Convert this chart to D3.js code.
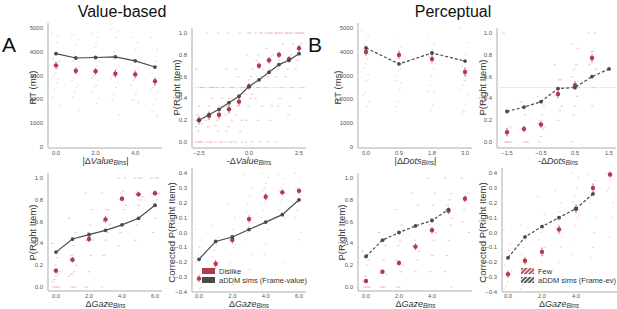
<!DOCTYPE html>
<html>
<head>
<meta charset="utf-8">
<script src="https://cdn.jsdelivr.net/npm/d3@7"></script>
<style>
	body { margin: 0; background: #fff; }
	text { font-family: "Liberation Sans", Arial, sans-serif; }
</style>
</head>
<body>
<svg id="fig" width="617" height="309"></svg>
<script>
// ---- data ----
// A: value-based
var rtValueBins = [0, 1, 2, 3, 4, 5];
var rtValueData = [3430, 3200, 3180, 3080, 3050, 2760];
var rtValueErr = [160, 150, 150, 170, 170, 170];
var rtValueSim = [3920, 3740, 3760, 3790, 3620, 3360];
var rtValueSubj = [
	[4750, 4650, 4400, 3900, 3700, 3600, 3300, 3100, 3000, 2900, 2850, 2700, 2400, 2100, 1750],
	[4700, 4500, 4300, 3900, 3600, 3400, 3300, 3100, 2900, 2800, 2600, 2500, 2300, 2100, 1550],
	[4750, 4600, 4400, 4200, 3800, 3600, 3400, 3200, 3000, 2900, 2800, 2600, 2500, 2300, 2050, 1850],
	[4950, 4850, 4600, 4000, 3700, 3400, 3300, 3200, 3000, 2900, 2700, 2500, 2200, 2000, 1350],
	[4600, 4400, 4100, 3700, 3500, 3300, 3100, 3000, 2800, 2600, 2400, 2200, 2000, 1950, 1850],
	[4600, 4100, 3600, 3300, 3100, 2900, 2800, 2600, 2500, 2400, 2300, 2000, 1800, 1500, 1350, 1300]
];

var pValueBins = [-2.5, -2, -1.5, -1, -0.5, 0, 0.5, 1, 1.5, 2, 2.5];
var pValueData = [0.2, 0.24, 0.25, 0.3, 0.37, 0.51, 0.7, 0.75, 0.8, 0.76, 0.86];
var pValueErr = [0.04, 0.04, 0.04, 0.04, 0.04, 0.03, 0.03, 0.03, 0.03, 0.03, 0.03];
var pValueSim = [0.2, 0.25, 0.3, 0.36, 0.42, 0.51, 0.57, 0.64, 0.71, 0.75, 0.81];
var pValueSubj = [
	[0, 0, 0, 0, 0.67, 0.5, 0.5, 0.33, 0.25, 0.2, 0.17, 0, 0.1, 0.14],
	[0, 0, 0, 0, 1, 0.5, 0.5, 0.33, 0.25, 0.2, 0.4, 0.5, 0.14],
	[0, 0, 0, 1, 0.5, 0.5, 0.33, 0.25, 0.2, 0.15, 0.4, 0.29, 0.1],
	[0, 0, 0, 1, 0.67, 0.5, 0.5, 0.4, 0.33, 0.25, 0.2, 0.3, 0.14, 0.1],
	[0, 0, 1, 0.6, 0.67, 0.5, 0.5, 0.4, 0.33, 0.25, 0.2, 0.1],
	[0, 0, 1, 1, 0.8, 0.67, 0.6, 0.57, 0.5, 0.5, 0.44, 0.4, 0.33, 0.2],
	[1, 1, 1, 0.8, 0.75, 0.67, 0.6, 0.5, 0.5, 0.4, 0.33, 0, 0.2],
	[1, 1, 1, 1, 0.86, 0.8, 0.75, 0.67, 0.6, 0.5, 0.33, 0.2, 0],
	[1, 1, 1, 1, 1, 0.9, 0.8, 0.75, 0.67, 0.6, 0.5, 0.4, 0.33, 0],
	[1, 1, 1, 1, 1, 0.9, 0.8, 0.75, 0.67, 0.6, 0.5, 0.33, 0.25],
	[1, 1, 1, 1, 1, 1, 0.9, 0.8, 0.75, 0.67, 0.5, 0.4]
];

var gazeBins = [0, 1, 2, 3, 4, 5, 6];
var pGazeValueData = [0.15, 0.25, 0.44, 0.62, 0.81, 0.85, 0.86];
var pGazeValueErr = [0.025, 0.025, 0.03, 0.03, 0.025, 0.02, 0.02];
var pGazeValueSim = [0.32, 0.44, 0.48, 0.52, 0.57, 0.63, 0.75];
var pGazeValueSubj = [
	[0.4, 0.33, 0.27, 0.2, 0.15, 0.14, 0.12, 0.1, 0.07, 0.05, 0, 0, 0, 0],
	[0.63, 0.5, 0.38, 0.29, 0.25, 0.2, 0.14, 0.12, 0.12, 0.1, 0, 0, 0],
	[0.86, 0.71, 0.57, 0.5, 0.43, 0.43, 0.29, 0.14, 0, 0],
	[0.86, 0.71, 0.71, 0.63, 0.6, 0.57, 0.5, 0.43, 0.29, 0],
	[1, 1, 0.88, 0.86, 0.8, 0.75, 0.71, 0.57, 0.5, 0.38],
	[1, 1, 1, 0.88, 0.86, 0.83, 0.8, 0.75, 0.57, 0.43],
	[1, 1, 1, 0.88, 0.86, 0.86, 0.8, 0.63, 0.5]
];

var cGazeValueData = [-0.31, -0.21, -0.05, 0.09, 0.24, 0.27, 0.28];
var cGazeValueErr = [0.025, 0.025, 0.025, 0.025, 0.025, 0.02, 0.02];
var cGazeValueSim = [-0.18, -0.06, -0.03, 0.02, 0.07, 0.12, 0.22];
var cGazeValueSubj = [
	[0.02, -0.05, -0.1, -0.15, -0.2, -0.25, -0.28, -0.3, -0.32, -0.35, -0.37, -0.38, -0.4],
	[0.05, -0.03, -0.08, -0.12, -0.16, -0.2, -0.22, -0.24, -0.27, -0.3, -0.35, -0.4],
	[0.19, 0.1, 0.02, -0.02, -0.05, -0.08, -0.1, -0.15, -0.2, -0.25, -0.3, -0.35],
	[0.39, 0.3, 0.25, 0.19, 0.14, 0.1, 0.08, 0.04, 0, -0.05, -0.15, -0.25],
	[0.4, 0.37, 0.33, 0.3, 0.28, 0.25, 0.22, 0.2, 0.15, 0.1, 0.02, -0.08, -0.15, -0.3],
	[0.39, 0.36, 0.32, 0.3, 0.28, 0.26, 0.24, 0.22, 0.2, 0.15, 0.1, -0.2],
	[0.4, 0.36, 0.34, 0.3, 0.29, 0.28, 0.25, 0.2, 0.15, 0.1, 0, -0.05]
];

// B: perceptual
var rtDotsBins = [0, 1, 2, 3];
var rtDotsLabels = ["0.0", "0.9", "1.8", "3.0"];
var rtDotsData = [3990, 3870, 3700, 3150];
var rtDotsErr = [170, 180, 180, 200];
var rtDotsSim = [4160, 3490, 3950, 3610];
var rtDotsSubj = [
	[4900, 4700, 4500, 4300, 4100, 3900, 3700, 3500, 3300, 3150, 3050, 2800, 2300, 2200, 1900, 1700],
	[4500, 4200, 4000, 3800, 3700, 3500, 3300, 3200, 3000, 2800, 2700, 2400, 1900, 1700],
	[4500, 4300, 4100, 3900, 3800, 3500, 3300, 3000, 2600, 2350, 2300, 1800, 1550],
	[5000, 4400, 3900, 3600, 3400, 3200, 3000, 2800, 2600, 2400, 2200, 1800, 1500, 1400]
];

var pDotsBins = [-1.5, -1, -0.5, 0, 0.5, 1, 1.5];
var pDotsData = [0.09, 0.12, 0.16, 0.44, 0.52, 0.77, null];
var pDotsErr = [0.04, 0.03, 0.03, 0.04, 0.04, 0.04, 0];
var pDotsSim = [0.28, 0.32, 0.37, 0.49, 0.5, 0.6, 0.67];
var pDotsSubj = [
	[1, 0.14, 0.1, 0, 0, 0, 0, 0],
	[0.37, 0.33, 0.25, 0.12, 0.12, 0, 0, 0],
	[0.42, 0.33, 0.25, 0.2, 0.17, 0.14, 0.12, 0.05, 0],
	[0.71, 0.57, 0.57, 0.5, 0.43, 0.33, 0.29, 0.2],
	[0.9, 0.86, 0.71, 0.67, 0.6, 0.5, 0.42, 0.33, 0.25, 0],
	[1, 1, 0.83, 0.83, 0.71, 0.67, 0.5, 0.33],
	[]
];

var pGazeDotsData = [0.055, 0.14, 0.22, 0.37, 0.52, 0.7, 0.81];
var pGazeDotsErr = [0.02, 0.02, 0.025, 0.03, 0.03, 0.03, 0.03];
var pGazeDotsSim = [0.28, 0.43, 0.5, 0.56, 0.61, 0.71, null];
var pGazeDotsSubj = [
	[0.33, 0.25, 0.2, 0.1, 0.05, 0, 0, 0, 0],
	[0.5, 0.38, 0.25, 0.14, 0.13, 0.12, 0, 0, 0],
	[0.71, 0.57, 0.43, 0.38, 0.25, 0.2, 0.14, 0, 0],
	[0.86, 0.75, 0.57, 0.43, 0.38, 0.33, 0.25, 0.14],
	[1, 0.86, 0.75, 0.63, 0.57, 0.5, 0.43, 0.29, 0.14],
	[1, 0.86, 0.8, 0.75, 0.71, 0.63, 0.57, 0.43, 0.29, 0.14, 0],
	[1, 0.86, 0.83, 0.71, 0.6, 0.5]
];

var cGazeDotsData = [-0.28, -0.19, -0.13, 0.02, 0.16, 0.3, 0.39];
var cGazeDotsErr = [0.025, 0.025, 0.03, 0.03, 0.03, 0.03, 0.02];
var cGazeDotsSim = [-0.17, -0.03, 0.04, 0.1, 0.16, 0.26, null];
var cGazeDotsSubj = [
	[0.02, -0.08, -0.12, -0.18, -0.22, -0.26, -0.3, -0.33, -0.36, -0.38],
	[0.05, 0.03, -0.05, -0.1, -0.15, -0.2, -0.25, -0.3, -0.35, -0.38],
	[0.24, 0.12, 0.05, 0, -0.05, -0.1, -0.15, -0.2, -0.25],
	[0.28, 0.2, 0.14, 0.08, 0.03, -0.03, -0.1, -0.2, -0.3],
	[0.4, 0.37, 0.3, 0.25, 0.2, 0.15, 0.1, 0.05, -0.05, -0.15],
	[0.39, 0.35, 0.3, 0.25, 0.2, 0.1, 0, -0.1, -0.17],
	[0.4, 0.38, 0.35, 0.3, 0.28, 0.2, 0.1, -0.03]
];

var legendA = ["Dislike", "aDDM sims (Frame-value)"];
var legendB = ["Few", "aDDM sims (Frame-ev)"];

// ---- drawing ----
var svg = d3.select("#fig");
var red = "#b23b4b", subjRed = "#e3a1aa", simGray = "#4a4a4a", spine = "#c8c8c8";

var defs = svg.append("defs");
function hatch(id, color) {
	var p = defs.append("pattern").attr("id", id)
		.attr("patternUnits", "userSpaceOnUse").attr("width", 3).attr("height", 3)
		.attr("patternTransform", "rotate(45)");
	p.append("rect").attr("width", 3).attr("height", 3).attr("fill", "#fff");
	p.append("rect").attr("width", 1.8).attr("height", 3).attr("fill", color);
}
hatch("hatchRed", red);
hatch("hatchGray", simGray);

function drawPanel(cfg) {
	var g = svg.append("g");
	var x = d3.scaleLinear().domain(cfg.xDomain).range(cfg.xRange);
	var y = d3.scaleLinear().domain(cfg.yDomain).range(cfg.yRange);

	// spines
	g.append("line").attr("x1", cfg.axisX).attr("x2", cfg.axisX)
		.attr("y1", cfg.yRange[1] - 5).attr("y2", cfg.axisY)
		.attr("stroke", spine).attr("stroke-width", 1.5);
	g.append("line").attr("x1", cfg.axisX).attr("x2", cfg.xRange[1] + 7)
		.attr("y1", cfg.axisY).attr("y2", cfg.axisY)
		.attr("stroke", spine).attr("stroke-width", 1.5);

	if (cfg.refLine != null) {
		g.append("line").attr("x1", cfg.axisX).attr("x2", cfg.xRange[1] + 7)
			.attr("y1", y(cfg.refLine)).attr("y2", y(cfg.refLine))
			.attr("stroke", "#e6e6e6").attr("stroke-width", 0.8);
	}

	// tick labels
	g.selectAll(".yt").data(cfg.yTicks).enter().append("text")
		.attr("x", cfg.axisX - 5).attr("y", function(d) { return y(d) + 2; })
		.attr("text-anchor", "end").attr("font-size", 6).attr("fill", "#555")
		.text(function(d) { return cfg.yFmt(d); });
	g.selectAll(".xt").data(cfg.xTicks).enter().append("text")
		.attr("x", function(d) { return x(d); }).attr("y", cfg.tickY)
		.attr("text-anchor", "middle").attr("font-size", 5.8).attr("fill", "#555")
		.text(function(d, i) { return cfg.xLabels ? cfg.xLabels[i] : d3.format(".1f")(d); });

	// axis labels
	g.append("text")
		.attr("transform", "translate(" + cfg.yLabelX + "," + ((cfg.yRange[0] + cfg.yRange[1]) / 2) + ") rotate(-90)")
		.attr("text-anchor", "middle").attr("font-size", 9.5).attr("fill", "#333")
		.text(cfg.yLabel);
	var xl = g.append("text").attr("x", (cfg.xRange[0] + cfg.xRange[1]) / 2).attr("y", cfg.xLabelY)
		.attr("text-anchor", "middle").attr("font-size", 9).attr("fill", "#333");
	xl.append("tspan").text(cfg.xLabel[0]);
	xl.append("tspan").attr("font-style", "italic").text(cfg.xLabel[1]);
	xl.append("tspan").attr("font-style", "italic").attr("font-size", 6.5).attr("dy", 1.2).text("Bins");
	xl.append("tspan").attr("dy", -1.2).text(cfg.xLabel[2]);

	// subject points
	cfg.bins.forEach(function(b, i) {
		g.selectAll(null).data(cfg.subj[i]).enter().append("rect")
			.attr("x", function(d, j) { return x(b) + ((j * 7) % 9 - 4) * 0.9 - 1; })
			.attr("y", function(d) { return y(d) - 0.5; })
			.attr("width", cfg.dash ? 2.4 : 1.3).attr("height", 1.1)
			.attr("fill", subjRed).attr("opacity", 0.6);
	});

	// data means with error bars
	cfg.bins.forEach(function(b, i) {
		var v = cfg.data[i];
		if (v == null) return;
		var e = cfg.err[i];
		g.append("line").attr("x1", x(b)).attr("x2", x(b))
			.attr("y1", y(v - e)).attr("y2", y(v + e))
			.attr("stroke", red).attr("stroke-width", 0.9).attr("opacity", 0.8);
		g.append("circle").attr("cx", x(b)).attr("cy", y(v)).attr("r", 2.2).attr("fill", red);
	});

	// simulations
	var simPts = cfg.bins.map(function(b, i) { return [b, cfg.sim[i]]; })
		.filter(function(d) { return d[1] != null; });
	var line = d3.line().x(function(d) { return x(d[0]); }).y(function(d) { return y(d[1]); });
	g.append("path").attr("d", line(simPts)).attr("fill", "none")
		.attr("stroke", simGray).attr("stroke-width", 1.2)
		.attr("stroke-dasharray", cfg.dashed ? "3,2" : null);
	g.selectAll(null).data(simPts).enter().append("circle")
		.attr("cx", function(d) { return x(d[0]); }).attr("cy", function(d) { return y(d[1]); })
		.attr("r", 1.9).attr("fill", simGray);

	if (cfg.legend) {
		cfg.legend.forEach(function(t, i) {
			var ly = cfg.legendY + i * 9;
			g.append("rect").attr("x", cfg.legendX).attr("y", ly - 3).attr("width", 13).attr("height", 6)
				.attr("fill", cfg.hatched ? (i == 0 ? "url(#hatchRed)" : "url(#hatchGray)") : (i == 0 ? red : simGray));
			g.append("text").attr("x", cfg.legendX + 17).attr("y", ly + 3)
				.attr("font-size", 7.5).attr("fill", "#333").text(t);
		});
	}
}

var fmt1 = d3.format(".1f"), fmt0 = d3.format("d");
var rtTicks = [0, 1000, 2000, 3000, 4000, 5000];
var pTicks = [0, 0.2, 0.4, 0.6, 0.8, 1.0];
var cTicks = [-0.4, -0.3, -0.2, -0.1, 0, 0.1, 0.2, 0.3, 0.4];
var topTickY = 155, topLabelY = 164, botTickY = 297.5, botLabelY = 307;

drawPanel({ bins: rtValueBins, data: rtValueData, err: rtValueErr, sim: rtValueSim, subj: rtValueSubj,
	xDomain: [0, 5], xRange: [56, 155], yDomain: [0, 5000], yRange: [147, 28], axisX: 48, axisY: 148,
	tickY: topTickY, xLabelY: topLabelY,
	yTicks: rtTicks, yFmt: fmt0, xTicks: [0, 2, 4], yLabel: "RT (ms)", yLabelX: 36,
	xLabel: ["|Δ", "Value", "|"] });
drawPanel({ bins: pValueBins, data: pValueData, err: pValueErr, sim: pValueSim, subj: pValueSubj, dash: true, refLine: 0.5,
	xDomain: [-2.5, 2.5], xRange: [199, 299], yDomain: [0, 1], yRange: [142, 33], axisX: 192, axisY: 148,
	tickY: topTickY, xLabelY: topLabelY,
	yTicks: pTicks, yFmt: fmt1, xTicks: [-2.5, 0, 2.5], yLabel: "P(Right Item)", yLabelX: 180,
	xLabel: ["-Δ", "Value", ""] });
drawPanel({ bins: gazeBins, data: pGazeValueData, err: pGazeValueErr, sim: pGazeValueSim, subj: pGazeValueSubj, dash: true,
	xDomain: [0, 6], xRange: [56, 155], yDomain: [0, 1], yRange: [287, 178], axisX: 48, axisY: 291,
	tickY: botTickY, xLabelY: botLabelY,
	yTicks: pTicks, yFmt: fmt1, xTicks: [0, 2, 4, 6], yLabel: "P(Right Item)", yLabelX: 36,
	xLabel: ["Δ", "Gaze", ""] });
drawPanel({ bins: gazeBins, data: cGazeValueData, err: cGazeValueErr, sim: cGazeValueSim, subj: cGazeValueSubj,
	xDomain: [0, 6], xRange: [199, 299], yDomain: [-0.4, 0.4], yRange: [292, 173], axisX: 192, axisY: 292,
	tickY: botTickY, xLabelY: botLabelY,
	yTicks: cTicks, yFmt: fmt1, xTicks: [0, 2, 4, 6], yLabel: "Corrected P(Right Item)", yLabelX: 175,
	xLabel: ["Δ", "Gaze", ""], legend: legendA, legendX: 202, legendY: 271 });

drawPanel({ bins: rtDotsBins, data: rtDotsData, err: rtDotsErr, sim: rtDotsSim, subj: rtDotsSubj, dashed: true,
	xDomain: [0, 3], xRange: [366, 465], yDomain: [0, 5000], yRange: [147, 28], axisX: 358, axisY: 148,
	tickY: topTickY, xLabelY: topLabelY,
	yTicks: rtTicks, yFmt: fmt0, xTicks: rtDotsBins, xLabels: rtDotsLabels, yLabel: "RT (ms)", yLabelX: 341,
	xLabel: ["|Δ", "Dots", "|"] });
drawPanel({ bins: pDotsBins, data: pDotsData, err: pDotsErr, sim: pDotsSim, subj: pDotsSubj, dash: true, dashed: true, refLine: 0.5,
	xDomain: [-1.5, 1.5], xRange: [507, 609], yDomain: [0, 1], yRange: [142, 33], axisX: 497, axisY: 148,
	tickY: topTickY, xLabelY: topLabelY,
	yTicks: pTicks, yFmt: fmt1, xTicks: [-1.5, -0.5, 0.5, 1.5], yLabel: "P(Right Item)", yLabelX: 486,
	xLabel: ["-Δ", "Dots", ""] });
drawPanel({ bins: gazeBins, data: pGazeDotsData, err: pGazeDotsErr, sim: pGazeDotsSim, subj: pGazeDotsSubj, dash: true, dashed: true,
	xDomain: [0, 6], xRange: [366, 465], yDomain: [0, 1], yRange: [287, 178], axisX: 358, axisY: 291,
	tickY: botTickY, xLabelY: botLabelY,
	yTicks: pTicks, yFmt: fmt1, xTicks: [0, 2, 4], yLabel: "P(Right Item)", yLabelX: 345,
	xLabel: ["Δ", "Gaze", ""] });
drawPanel({ bins: gazeBins, data: cGazeDotsData, err: cGazeDotsErr, sim: cGazeDotsSim, subj: cGazeDotsSubj, dashed: true,
	xDomain: [0, 6], xRange: [508, 610], yDomain: [-0.4, 0.4], yRange: [292, 173], axisX: 502, axisY: 292,
	tickY: botTickY, xLabelY: botLabelY,
	yTicks: cTicks, yFmt: fmt1, xTicks: [0, 2, 4], yLabel: "Corrected P(Right Item)", yLabelX: 486,
	xLabel: ["Δ", "Gaze", ""], legend: legendB, legendX: 521, legendY: 271, hatched: true });

// titles and panel letters
svg.append("text").attr("x", 122).attr("y", 17).attr("text-anchor", "middle")
	.attr("font-size", 16).attr("fill", "#111").text("Value-based");
svg.append("text").attr("x", 453).attr("y", 17).attr("text-anchor", "middle")
	.attr("font-size", 16).attr("fill", "#111").text("Perceptual");
svg.append("text").attr("x", 2).attr("y", 52).attr("font-size", 21).attr("fill", "#111").text("A");
svg.append("text").attr("x", 308).attr("y", 52).attr("font-size", 21).attr("fill", "#111").text("B");
</script>
</body>
</html>
